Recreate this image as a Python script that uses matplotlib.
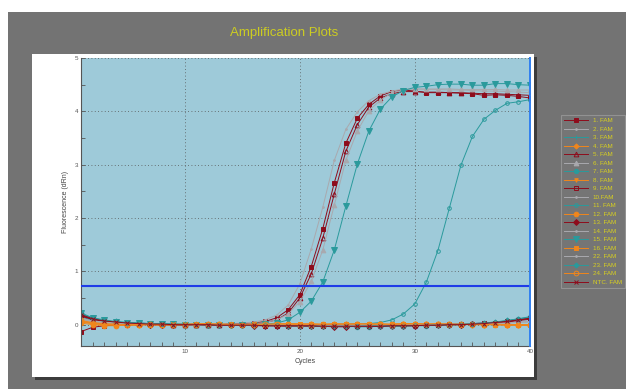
import matplotlib
matplotlib.use("Agg")
import matplotlib.pyplot as plt
from matplotlib.patches import Rectangle
from matplotlib.ticker import MultipleLocator

plt.rcParams['font.family'] = ['Liberation Sans', 'DejaVu Sans']

W, H = 626, 389

cycles = list(range(1, 41))

well_labels = ["1. FAM", "2. FAM", "3. FAM", "4. FAM", "5. FAM", "6. FAM", "7. FAM",
               "8. FAM", "9. FAM", "10.FAM", "11. FAM", "12. FAM", "13. FAM", "14. FAM",
               "15. FAM", "16. FAM", "22. FAM", "23. FAM", "24. FAM", "NTC. FAM"]

# dRn per cycle for each well
w1 = [-0.13, -0.05, -0.02, -0.01, 0.0, 0.0, 0.01, 0.0, -0.01, 0.0, 0.01, 0.0, 0.0, 0.01, 0.02, 0.03, 0.06, 0.13, 0.28, 0.56,
      1.09, 1.80, 2.66, 3.40, 3.87, 4.13, 4.29, 4.37, 4.40, 4.38, 4.35, 4.35, 4.35, 4.34, 4.33, 4.30, 4.31, 4.30, 4.28, 4.25]
w2 = [0.12, 0.05, 0.03, 0.02, 0.01, 0.01, 0.0, 0.0, 0.01, 0.0, 0.0, 0.01, 0.01, 0.02, 0.03, 0.05, 0.09, 0.18, 0.37, 0.76,
      1.42, 2.20, 3.08, 3.66, 3.99, 4.20, 4.32, 4.38, 4.42, 4.42, 4.41, 4.41, 4.40, 4.40, 4.39, 4.38, 4.38, 4.37, 4.36, 4.35]
w3 = [0.20, 0.12, 0.08, 0.05, 0.04, 0.03, 0.02, 0.02, 0.01, 0.01, 0.01, 0.0, 0.0, 0.0, 0.0, 0.0, -0.01, -0.01, -0.01, -0.02,
      -0.02, -0.02, -0.02, -0.03, -0.03, -0.03, -0.02, -0.02, -0.02, -0.01, -0.01, 0.0, 0.0, 0.01, 0.02, 0.03, 0.05, 0.07, 0.10, 0.13]
w4 = [0.05, 0.02, 0.0, -0.01, -0.01, 0.0, 0.0, -0.01, 0.0, 0.0, 0.01, 0.01, 0.0, 0.0, 0.01, 0.0, 0.0, 0.01, 0.01, 0.0,
      0.01, 0.0, 0.01, 0.01, 0.0, 0.0, 0.01, 0.0, 0.01, 0.02, 0.01, 0.01, 0.0, 0.01, 0.0, 0.0, 0.01, 0.0, 0.0, 0.0]
w5 = [0.17, 0.10, 0.06, 0.04, 0.03, 0.02, 0.01, 0.01, 0.0, 0.0, 0.0, 0.0, 0.0, 0.01, 0.01, 0.02, 0.04, 0.09, 0.22, 0.50,
      0.95, 1.62, 2.45, 3.25, 3.75, 4.08, 4.25, 4.33, 4.37, 4.37, 4.36, 4.36, 4.35, 4.35, 4.34, 4.33, 4.33, 4.32, 4.31, 4.30]
w6 = [0.13, 0.07, 0.05, 0.03, 0.02, 0.01, 0.01, 0.0, 0.0, 0.0, 0.0, 0.0, 0.0, 0.01, 0.01, 0.02, 0.04, 0.09, 0.20, 0.43,
      0.81, 1.40, 2.24, 3.08, 3.63, 4.01, 4.21, 4.35, 4.40, 4.42, 4.42, 4.42, 4.42, 4.41, 4.41, 4.41, 4.41, 4.40, 4.40, 4.40]
w7 = [0.18, 0.10, 0.07, 0.05, 0.03, 0.02, 0.02, 0.01, 0.01, 0.0, 0.0, 0.0, 0.0, -0.01, -0.01, -0.01, -0.01, -0.02, -0.02, -0.02,
      -0.03, -0.03, -0.03, -0.03, -0.04, -0.04, -0.03, -0.03, -0.03, -0.02, -0.02, -0.01, -0.01, 0.0, 0.01, 0.02, 0.04, 0.07, 0.11, 0.15]
w8 = [0.07, 0.03, 0.01, 0.0, 0.0, 0.01, 0.0, 0.0, -0.01, 0.0, 0.0, 0.01, 0.0, 0.0, 0.0, 0.01, 0.0, 0.0, 0.0, 0.01,
      0.01, 0.0, 0.0, 0.01, 0.01, 0.0, 0.0, 0.0, 0.01, 0.0, 0.0, 0.01, 0.0, 0.0, 0.0, 0.01, 0.0, -0.01, -0.01, -0.02]
w9 = [0.17, 0.10, 0.07, 0.05, 0.03, 0.02, 0.01, 0.0, 0.0, 0.0, -0.01, -0.01, -0.01, 0.0, -0.01, -0.01, -0.02, -0.02, -0.02, -0.02,
      -0.03, -0.02, -0.02, -0.03, -0.02, -0.02, -0.01, -0.01, -0.01, 0.0, 0.0, 0.0, 0.01, 0.01, 0.02, 0.03, 0.04, 0.06, 0.08, 0.10]
w10 = [0.14, 0.08, 0.05, 0.03, 0.02, 0.02, 0.01, 0.01, 0.0, 0.0, 0.0, 0.0, -0.01, -0.01, 0.0, 0.0, 0.0, -0.01, -0.01, -0.01,
       -0.01, -0.02, -0.02, -0.01, -0.01, -0.02, -0.01, -0.01, 0.0, 0.0, 0.0, 0.01, 0.01, 0.01, 0.02, 0.02, 0.03, 0.04, 0.05, 0.06]
w11 = [0.15, 0.08, 0.05, 0.03, 0.02, 0.02, 0.01, 0.01, 0.0, 0.0, 0.0, 0.0, 0.0, 0.0, 0.0, 0.0, 0.0, 0.0, 0.0, 0.0,
       0.0, 0.0, 0.0, 0.01, 0.01, 0.02, 0.04, 0.09, 0.20, 0.39, 0.80, 1.39, 2.19, 2.99, 3.53, 3.85, 4.02, 4.15, 4.18, 4.22]
w12 = [0.03, 0.0, -0.02, -0.02, -0.01, -0.01, 0.0, -0.01, -0.01, 0.0, 0.0, 0.0, 0.01, 0.0, 0.0, 0.0, 0.01, 0.0, 0.0, 0.0,
       0.01, 0.01, 0.0, 0.0, 0.01, 0.0, 0.01, 0.01, 0.02, 0.02, 0.01, 0.01, 0.01, 0.0, 0.01, 0.0, 0.0, 0.0, -0.01, -0.01]
w13 = [0.16, 0.10, 0.06, 0.04, 0.02, 0.01, 0.0, 0.0, 0.0, -0.01, -0.01, -0.01, -0.01, -0.01, -0.01, -0.02, -0.02, -0.02, -0.03, -0.03,
       -0.03, -0.03, -0.04, -0.04, -0.03, -0.03, -0.03, -0.02, -0.02, -0.02, -0.01, -0.01, 0.0, 0.0, 0.01, 0.02, 0.03, 0.05, 0.08, 0.12]
w14 = [0.10, 0.06, 0.04, 0.03, 0.02, 0.01, 0.01, 0.0, 0.0, 0.0, 0.0, 0.01, 0.0, 0.0, 0.0, -0.01, 0.0, 0.0, -0.01, 0.0,
       0.0, -0.01, -0.01, 0.0, 0.0, 0.0, -0.01, 0.0, 0.0, 0.0, 0.01, 0.01, 0.0, 0.01, 0.01, 0.02, 0.02, 0.03, 0.04, 0.05]
w15 = [0.21, 0.12, 0.08, 0.05, 0.04, 0.03, 0.02, 0.01, 0.01, 0.0, 0.0, 0.0, 0.0, 0.0, 0.0, 0.0, 0.01, 0.03, 0.09, 0.23,
       0.44, 0.80, 1.40, 2.22, 3.01, 3.63, 4.04, 4.27, 4.39, 4.45, 4.47, 4.50, 4.51, 4.51, 4.49, 4.49, 4.52, 4.52, 4.50, 4.49]
w16 = [0.06, 0.02, 0.0, 0.0, 0.01, 0.0, 0.0, 0.0, 0.01, 0.01, 0.02, 0.02, 0.01, 0.01, 0.0, 0.01, 0.0, 0.02, 0.02, 0.02,
       0.01, 0.01, 0.02, 0.01, 0.01, 0.02, 0.01, 0.01, 0.02, 0.02, 0.01, 0.01, 0.0, 0.0, 0.01, 0.0, 0.0, -0.01, 0.0, -0.01]
w22 = [0.12, 0.07, 0.05, 0.03, 0.02, 0.01, 0.01, 0.01, 0.0, 0.0, -0.01, 0.0, 0.0, 0.0, 0.0, -0.01, -0.01, -0.01, -0.02, -0.02,
       -0.02, -0.01, -0.02, -0.02, -0.02, -0.02, -0.01, -0.01, -0.01, 0.0, 0.0, 0.0, 0.0, 0.01, 0.01, 0.02, 0.03, 0.03, 0.05, 0.06]
w23 = [0.22, 0.13, 0.09, 0.06, 0.04, 0.03, 0.02, 0.02, 0.01, 0.01, 0.0, 0.0, 0.0, 0.0, -0.01, -0.01, -0.01, -0.01, -0.02, -0.02,
       -0.02, -0.03, -0.03, -0.03, -0.03, -0.02, -0.02, -0.02, -0.02, -0.01, -0.01, 0.0, 0.0, 0.01, 0.02, 0.03, 0.05, 0.08, 0.11, 0.14]
w24 = [0.08, 0.04, 0.02, 0.01, 0.0, 0.0, 0.01, 0.0, 0.0, 0.0, 0.0, 0.01, 0.01, 0.0, 0.0, 0.0, 0.01, 0.01, 0.01, 0.0,
       0.0, 0.0, 0.01, 0.01, 0.02, 0.01, 0.01, 0.0, 0.01, 0.01, 0.01, 0.02, 0.01, 0.01, 0.0, 0.0, 0.01, 0.0, 0.0, 0.0]
ntc = [0.19, 0.11, 0.07, 0.05, 0.03, 0.02, 0.01, 0.01, 0.0, 0.0, 0.0, 0.0, -0.01, -0.01, -0.01, -0.01, -0.02, -0.02, -0.02, -0.02,
       -0.02, -0.03, -0.03, -0.03, -0.03, -0.03, -0.03, -0.02, -0.02, -0.02, -0.01, -0.01, 0.0, 0.0, 0.01, 0.02, 0.04, 0.06, 0.09, 0.12]

wells = [w1, w2, w3, w4, w5, w6, w7, w8, w9, w10, w11, w12, w13, w14, w15, w16, w22, w23, w24, ntc]

threshold = 0.72
cursor_cycle = 40

RED, GRAY, TEAL, ORANGE = "#8e0c1c", "#a9a9ae", "#2a9a9c", "#f0861c"
colors = [RED, GRAY, TEAL, ORANGE] * 4 + [GRAY, TEAL, ORANGE, RED]
# (marker, filled, size)
markers = [("s", True, 3.4), (".", True, 2.5), ("+", True, 2.5), ("D", True, 2.6),
           ("^", False, 3.4), ("^", True, 3.4), ("o", True, 3.2), ("v", True, 2.6),
           ("s", False, 3.2), (".", True, 2.5), ("o", False, 2.6), ("o", True, 3.4),
           ("D", True, 3.0), (".", True, 2.5), ("v", True, 3.8), ("s", True, 3.0),
           (".", True, 2.5), ("D", True, 2.6), ("o", False, 3.4), ("x", True, 3.0)]

fig = plt.figure(figsize=(W / 100, H / 100), dpi=100, facecolor="#737373")

# white strips at the top and left edge, then the white chart panel with its shadow
fig.patches.append(Rectangle((0, 1 - 12 / H), 1, 12 / H, transform=fig.transFigure,
                             facecolor="white", edgecolor="none", zorder=0))
fig.patches.append(Rectangle((0, 0), 8 / W, 1, transform=fig.transFigure,
                             facecolor="white", edgecolor="none", zorder=0))
fig.patches.append(Rectangle((35 / W, 1 - 380 / H), 502 / W, 323 / H, transform=fig.transFigure,
                             facecolor="#3c3c3c", edgecolor="none", zorder=0))
fig.patches.append(Rectangle((32 / W, 1 - 377 / H), 502 / W, 323 / H, transform=fig.transFigure,
                             facecolor="white", edgecolor="none", zorder=0))

fig.text(284 / W, 1 - 33 / H, "Amplification Plots", color="#cccc22", fontsize=9.5,
         ha="center", va="center")

ax = fig.add_axes([81 / W, 1 - 346 / H, 449 / W, 288 / H])
ax.set_zorder(3)
ax.set_facecolor("#9ecad9")

handles = []
for y, lab, c, (m, filled, ms) in zip(wells, well_labels, colors, markers):
    ln, = ax.plot(cycles, y, color=c, lw=0.7, marker=m, ms=ms,
                  mfc=c if filled else "none", mec=c, mew=0.7, label=lab)
    handles.append(ln)

ax.axhline(threshold, color="#1f3ce8", lw=1.5, zorder=5)
ax.axvline(cursor_cycle, color="#2f7ff0", lw=1.4, zorder=5, clip_on=False)

ax.set_xlim(1, 40)
ax.set_ylim(-0.4, 5)
ax.set_xticks([10, 20, 30, 40])
ax.xaxis.set_minor_locator(MultipleLocator(1))
ax.set_yticks([0, 1, 2, 3, 4, 5])
ax.yaxis.set_minor_locator(MultipleLocator(0.5))
ax.tick_params(which="both", direction="in", colors="#555555", labelsize=4.5,
               labelcolor="#555555", pad=2)
ax.tick_params(which="major", length=3, width=0.6)
ax.tick_params(which="minor", length=3, width=0.6)
ax.tick_params(axis="x", which="major", length=0)
ax.grid(True, which="major", color="#555555", linestyle=(0, (1, 3)), lw=0.6)

for side in ("top", "right"):
    ax.spines[side].set_visible(False)
for side in ("left", "bottom"):
    ax.spines[side].set_color("#555555")
    ax.spines[side].set_linewidth(0.8)

ax.set_xlabel("Cycles", fontsize=5, color="#444444", labelpad=3)
ax.set_ylabel("Fluorescence (dRn)", fontsize=5, color="#444444", labelpad=4)

leg = fig.legend(handles=handles, loc="upper left", bbox_to_anchor=(561 / W, 1 - 115 / H),
                 fontsize=4.5, labelcolor="#d8d020", frameon=True, fancybox=False,
                 facecolor="#767676", edgecolor="#9a9a9a", handlelength=3.8,
                 handletextpad=0.8, labelspacing=0.5, borderpad=0.5, borderaxespad=0)
leg.get_frame().set_linewidth(0.8)

fig.savefig("out.png", dpi=100, facecolor=fig.get_facecolor())
